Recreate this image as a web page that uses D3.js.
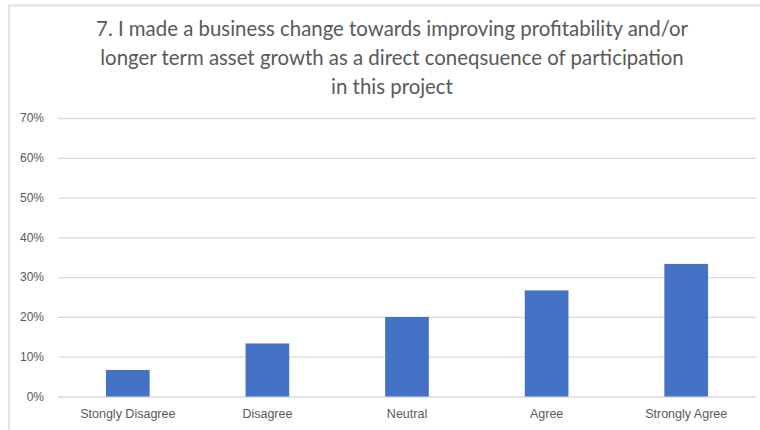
<!DOCTYPE html>
<html>
<head>
<meta charset="utf-8">
<script src="https://cdn.jsdelivr.net/npm/d3@7"></script>
<style>
  html, body { margin: 0; padding: 0; background: #fff; }
  svg { display: block; font-family: Lato, "Open Sans", sans-serif; }
</style>
</head>
<body>
<svg id="chart" width="760" height="430"></svg>
<script>
// Survey responses, share of respondents per answer
const categories = ["Stongly Disagree", "Disagree", "Neutral", "Agree", "Strongly Agree"];
const shares = [0.0667, 0.1333, 0.2, 0.2667, 0.3333];
const yTicks = [0, 0.1, 0.2, 0.3, 0.4, 0.5, 0.6, 0.7];
const titleLines = [
  "7. I made a business change towards improving profitability and/or",
  "longer term asset growth as a direct coneqsuence of participation",
  "in this project"
];

const svg = d3.select("#chart");
const W = 760, H = 430;
const plot = { left: 58, right: 756, top: 118, bottom: 396.5 };

// Chart frame (left and top edges only)
svg.append("path")
  .attr("d", `M9,${H} V5.5 H${W}`)
  .attr("fill", "none")
  .attr("stroke", "#e2e2e2")
  .attr("stroke-width", 2);

// Title
svg.append("g").selectAll("text")
  .data(titleLines)
  .join("text")
  .attr("x", 392)
  .attr("y", (d, i) => 35.5 + i * 29)
  .attr("text-anchor", "middle")
  .attr("font-size", 20.4)
  .attr("fill", "#595959")
  .text(d => d);

const x = d3.scaleBand()
  .domain(categories)
  .range([plot.left, plot.right])
  .paddingInner(0.687)
  .paddingOuter(0.3435);

const y = d3.scaleLinear()
  .domain([0, 0.7])
  .range([plot.bottom, plot.top]);

// Horizontal gridlines + percent labels
const yAxis = d3.axisLeft(y)
  .tickValues(yTicks)
  .tickFormat(d3.format(".0%"))
  .tickSize(-(plot.right - plot.left))
  .tickPadding(14);

const gy = svg.append("g")
  .attr("transform", `translate(${plot.left},0)`)
  .call(yAxis);
gy.select(".domain").remove();
gy.selectAll(".tick line").attr("stroke", "#d9d9d9").attr("stroke-width", 1.3);
gy.selectAll(".tick text")
  .attr("fill", "#595959")
  .attr("font-size", 12);

// Bars
svg.append("g").selectAll("rect")
  .data(categories.map((c, i) => ({ c, v: shares[i] })))
  .join("rect")
  .attr("x", d => x(d.c))
  .attr("width", x.bandwidth())
  .attr("y", d => y(d.v))
  .attr("height", d => y(0) - y(d.v))
  .attr("fill", "#4472c4");

// Category labels
const xAxis = d3.axisBottom(x).tickSize(0).tickPadding(13);
const gx = svg.append("g")
  .attr("transform", `translate(0,${plot.bottom})`)
  .call(xAxis);
gx.select(".domain").remove();
gx.selectAll(".tick text")
  .attr("fill", "#595959")
  .attr("font-size", 12.5);
</script>
</body>
</html>
